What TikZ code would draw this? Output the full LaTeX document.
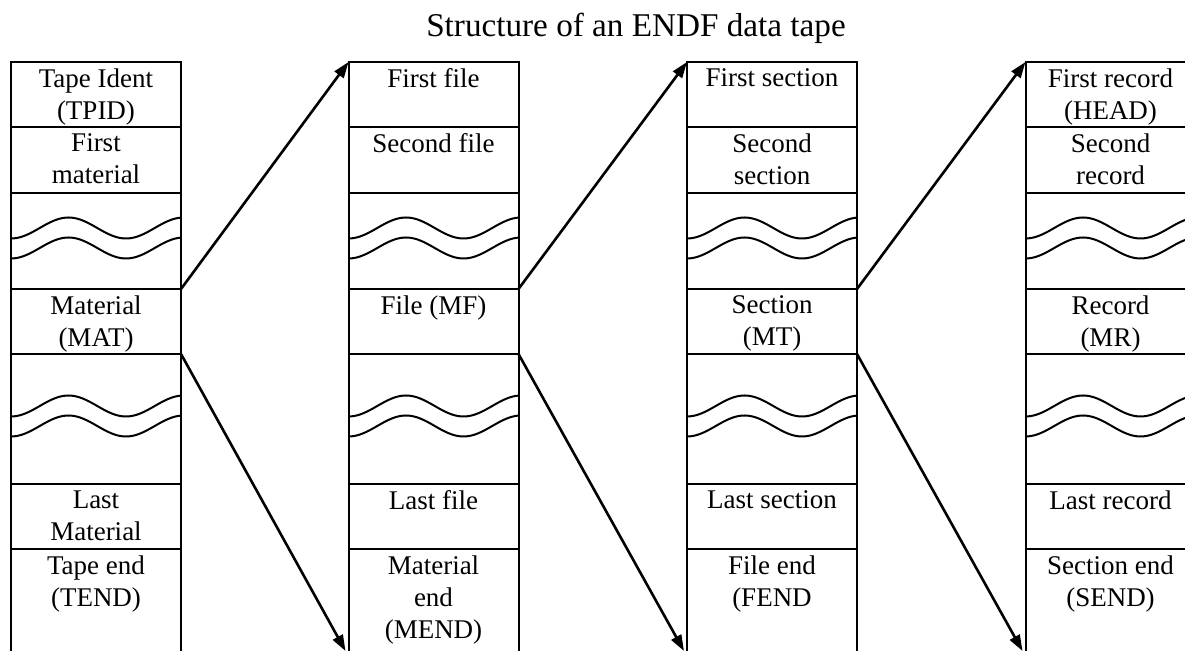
\documentclass[tikz,border=0pt]{standalone}
\usepackage{fontspec}
\setmainfont{Liberation Serif}
\usetikzlibrary{positioning,arrows.meta}

\begin{document}
\begin{tikzpicture}[x=0.5pt, y=-0.5pt,
    cellBox/.style={draw, line width=1pt, minimum width=85pt, minimum height=#1,
      inner sep=0pt, outer sep=0pt, anchor=north west},
    cellText/.style={anchor=north, align=center, inner xsep=0pt, inner ysep=3pt,
      font=\fontsize{13.5}{16}\selectfont},
    waveLine/.style={line width=1pt},
    linkArrow/.style={line width=1.3pt, -{Triangle[length=8pt,width=5.5pt]}},
  ]
  \useasboundingbox (0,0) rectangle (1185,651);
  \clip (0,0) rectangle (1185,651);

  \node[font=\fontsize{16.6}{20}\selectfont, anchor=base] (title) at (636,37) {Structure of an ENDF data tape};

  % tape
  \node[cellBox=32.5pt, label={[cellText]north:Tape Ident\\(TPID)}] (tape-1) at (11,62) {};
  \node[cellBox=33pt, below=0pt of tape-1, label={[cellText]north:First\\material}] (tape-2) {};
  \node[cellBox=48pt, below=0pt of tape-2] (tape-3) {};
  \node[cellBox=32.5pt, below=0pt of tape-3, label={[cellText]north:Material\\(MAT)}] (tape-4) {};
  \node[cellBox=65pt, below=0pt of tape-4] (tape-5) {};
  \node[cellBox=32.5pt, below=0pt of tape-5, label={[cellText]north:Last\\Material}] (tape-6) {};
  \node[cellBox=65pt, below=0pt of tape-6, label={[cellText]north:Tape end\\(TEND)}] (tape-7) {};

  % material
  \node[cellBox=32.5pt, label={[cellText]north:First file}] (mat-1) at (348.5,62) {};
  \node[cellBox=33pt, below=0pt of mat-1, label={[cellText]north:Second file}] (mat-2) {};
  \node[cellBox=48pt, below=0pt of mat-2] (mat-3) {};
  \node[cellBox=32.5pt, below=0pt of mat-3, label={[cellText]north:File (MF)}] (mat-4) {};
  \node[cellBox=65pt, below=0pt of mat-4] (mat-5) {};
  \node[cellBox=32.5pt, below=0pt of mat-5, label={[cellText]north:Last file}] (mat-6) {};
  \node[cellBox=65pt, below=0pt of mat-6, label={[cellText]north:Material\\end\\(MEND)}] (mat-7) {};

  % file
  \node[cellBox=32.5pt, label={[cellText]north:First section}] (file-1) at (687,62) {};
  \node[cellBox=33pt, below=0pt of file-1, label={[cellText]north:Second\\section}] (file-2) {};
  \node[cellBox=48pt, below=0pt of file-2] (file-3) {};
  \node[cellBox=32.5pt, below=0pt of file-3, label={[cellText]north:Section\\(MT)}] (file-4) {};
  \node[cellBox=65pt, below=0pt of file-4] (file-5) {};
  \node[cellBox=32.5pt, below=0pt of file-5, label={[cellText]north:Last section}] (file-6) {};
  \node[cellBox=65pt, below=0pt of file-6, label={[cellText]north:File end\\(FEND}] (file-7) {};

  % section
  \node[cellBox=32.5pt, label={[cellText]north:First record\\(HEAD)}] (sec-1) at (1025.5,62) {};
  \node[cellBox=33pt, below=0pt of sec-1, label={[cellText]north:Second\\record}] (sec-2) {};
  \node[cellBox=48pt, below=0pt of sec-2] (sec-3) {};
  \node[cellBox=32.5pt, below=0pt of sec-3, label={[cellText]north:Record\\(MR)}] (sec-4) {};
  \node[cellBox=65pt, below=0pt of sec-4] (sec-5) {};
  \node[cellBox=32.5pt, below=0pt of sec-5, label={[cellText]north:Last record}] (sec-6) {};
  \node[cellBox=65pt, below=0pt of sec-6, label={[cellText]north:Section end\\(SEND)}] (sec-7) {};

  % break marks
  \foreach \col in {tape,mat,file,sec}
    \foreach \row in {3,5} {
      \draw[waveLine, shift={(\col-\row.west)}] plot[domain=0:170, samples=60, smooth] (\x, {-13+10.5*cos(3.1304*\x)});
      \draw[waveLine, shift={(\col-\row.west)}] plot[domain=0:170, samples=60, smooth] (\x, {7+10.5*cos(3.1304*\x)});
    }

  % zoom arrows
  \coordinate (mat-tip) at (345.5,651);
  \coordinate (file-tip) at (684,651);
  \coordinate (sec-tip) at (1022.5,651);
  \draw[linkArrow] (tape-4.north east) -- (mat-1.north west);
  \draw[linkArrow] (tape-4.south east) -- (mat-tip);
  \draw[linkArrow] (mat-4.north east) -- (file-1.north west);
  \draw[linkArrow] (mat-4.south east) -- (file-tip);
  \draw[linkArrow] (file-4.north east) -- (sec-1.north west);
  \draw[linkArrow] (file-4.south east) -- (sec-tip);
\end{tikzpicture}
\end{document}
